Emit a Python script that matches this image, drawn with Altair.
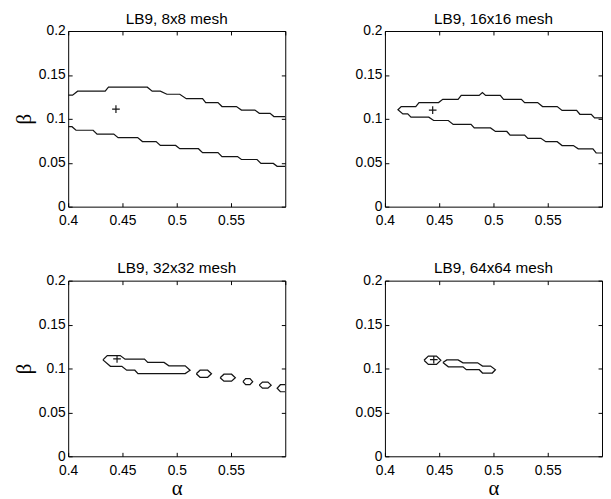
import altair as alt
import pandas as pd

# ---------------- data (alpha, beta) ----------------
XTICKS = [0.4, 0.45, 0.5, 0.55]
YTICKS = [0, 0.05, 0.1, 0.15, 0.2]

TITLES = ["LB9, 8x8 mesh", "LB9, 16x16 mesh", "LB9, 32x32 mesh", "LB9, 64x64 mesh"]

# 8x8 mesh: two open contour branches
m8_upper = [(0.400, 0.127), (0.4040, 0.127), (0.4087, 0.1315), (0.4341, 0.1315), (0.4371, 0.136),
            (0.4729, 0.136), (0.4774, 0.1315), (0.4849, 0.1315), (0.4909, 0.128), (0.5028, 0.128),
            (0.5088, 0.123), (0.5238, 0.123), (0.5267, 0.1185), (0.5380, 0.1185), (0.5417, 0.114),
            (0.5550, 0.114), (0.5596, 0.110), (0.5720, 0.110), (0.5761, 0.1063), (0.5860, 0.1063),
            (0.5895, 0.1026), (0.600, 0.1026)]
m8_lower = [(0.400, 0.091), (0.4035, 0.091), (0.4072, 0.087), (0.4230, 0.087), (0.4266, 0.0826),
            (0.4420, 0.0826), (0.4460, 0.0786), (0.4640, 0.0786), (0.4684, 0.0741), (0.4810, 0.0741),
            (0.4849, 0.0697), (0.4990, 0.0697), (0.5028, 0.066), (0.5200, 0.066), (0.5238, 0.0615),
            (0.5380, 0.0615), (0.5417, 0.057), (0.5560, 0.057), (0.5596, 0.0537), (0.5740, 0.0537),
            (0.5776, 0.0492), (0.5890, 0.0492), (0.5925, 0.0459), (0.600, 0.0459)]
m8_plus = [(0.444, 0.111)]

# 16x16 mesh: one contour open at the right edge
m16_contour = [(0.600, 0.1011), (0.5931, 0.1011), (0.5901, 0.1052), (0.5796, 0.1052), (0.5766, 0.1096),
               (0.5632, 0.1096), (0.5587, 0.114), (0.5452, 0.114), (0.5407, 0.1185), (0.5287, 0.1185),
               (0.5257, 0.1222), (0.5093, 0.1222), (0.5063, 0.1267), (0.4928, 0.1267), (0.4898, 0.130),
               (0.4868, 0.1267), (0.4703, 0.1267), (0.4674, 0.1222), (0.4533, 0.1222), (0.4494, 0.1185),
               (0.4314, 0.1185), (0.4284, 0.114), (0.4150, 0.114), (0.4120, 0.1104), (0.4165, 0.1056),
               (0.4210, 0.1056), (0.4240, 0.1019), (0.4404, 0.1019), (0.4449, 0.0981), (0.4584, 0.0981),
               (0.4629, 0.0937), (0.4793, 0.0937), (0.4823, 0.0896), (0.4973, 0.0896), (0.5018, 0.0856),
               (0.5123, 0.0856), (0.5153, 0.0815), (0.5287, 0.0815), (0.5317, 0.0778), (0.5437, 0.0778),
               (0.5482, 0.074), (0.5587, 0.074), (0.5632, 0.0696), (0.5736, 0.0696), (0.5781, 0.0659),
               (0.5916, 0.0659), (0.5946, 0.0611), (0.600, 0.0611)]
m16_plus = [(0.444, 0.110)]

# 32x32 mesh: one elongated closed contour and a chain of small islands
m32_main = [(0.4320, 0.1098), (0.4360, 0.1147), (0.4479, 0.1147), (0.4524, 0.1106), (0.4703, 0.1106),
            (0.4733, 0.1069), (0.4883, 0.1069), (0.4928, 0.1031), (0.5078, 0.1031), (0.5123, 0.0980),
            (0.5078, 0.0942), (0.4643, 0.0942), (0.4614, 0.0980), (0.4539, 0.0980), (0.4494, 0.1025),
            (0.4389, 0.1025), (0.4320, 0.1098)]
m32_isle1 = [(0.518, 0.094), (0.5215, 0.098), (0.5285, 0.098), (0.532, 0.094), (0.5285, 0.090),
             (0.5215, 0.090), (0.518, 0.094)]
m32_isle2 = [(0.540, 0.0895), (0.5435, 0.0935), (0.5505, 0.0935), (0.554, 0.0895), (0.5505, 0.0855),
             (0.5435, 0.0855), (0.540, 0.0895)]
m32_isle3 = [(0.561, 0.085), (0.5635, 0.0885), (0.5675, 0.0885), (0.570, 0.085), (0.5675, 0.0815),
             (0.5635, 0.0815), (0.561, 0.085)]
m32_isle4 = [(0.576, 0.081), (0.579, 0.0845), (0.584, 0.0845), (0.587, 0.081), (0.584, 0.0775),
             (0.579, 0.0775), (0.576, 0.081)]
m32_isle5 = [(0.600, 0.0815), (0.5955, 0.0815), (0.5925, 0.0775), (0.5955, 0.0735), (0.600, 0.0735)]
m32_plus = [(0.445, 0.111)]

# 64x64 mesh: a small island around the optimum and an elongated one
m64_isle = [(0.436, 0.1094), (0.440, 0.1141), (0.4475, 0.1141), (0.4515, 0.1094), (0.4475, 0.1047),
            (0.440, 0.1047), (0.436, 0.1094)]
m64_main = [(0.4534, 0.1068), (0.4570, 0.1098), (0.4674, 0.1098), (0.4719, 0.1065), (0.4854, 0.1065),
            (0.4899, 0.1027), (0.4973, 0.1027), (0.5018, 0.0986), (0.4989, 0.0948), (0.4899, 0.0948),
            (0.4869, 0.0986), (0.4750, 0.0986), (0.4719, 0.1019), (0.4584, 0.1019), (0.4534, 0.1068)]
m64_plus = [(0.445, 0.110)]


def paths_df(paths):
    rows = []
    for name, pts in paths.items():
        for i, (a, b) in enumerate(pts):
            rows.append({"alpha": a, "beta": b, "path": name, "order": i})
    return pd.DataFrame(rows)


def pts_df(pts):
    return pd.DataFrame({"alpha": [p[0] for p in pts], "beta": [p[1] for p in pts]})


LINE = "#141414"
W, H = 220, 178


def panel(paths, plus, title, ytitle, xtitle):
    xs = alt.Scale(domain=[0.4, 0.6], nice=False, zero=False)
    ys = alt.Scale(domain=[0, 0.2], nice=False, zero=False)
    xb = dict(values=XTICKS, format="~g", orient="bottom", offset=-4, tickSize=4,
              labelPadding=7, titlePadding=1, labelFlush=False)
    yl = dict(values=YTICKS, format="~g", orient="left", offset=-4, tickSize=4,
              labelPadding=3, titlePadding=4, labelFlush=False)
    if xtitle:
        xb["title"] = xtitle
    if ytitle:
        yl["title"] = ytitle
    x_bottom = alt.X("alpha:Q", scale=xs, axis=alt.Axis(**xb),
                     **({} if xtitle else {"title": None}))
    y_left = alt.Y("beta:Q", scale=ys, axis=alt.Axis(**yl),
                   **({} if ytitle else {"title": None}))
    lines = alt.Chart(paths_df(paths)).mark_line(
        color=LINE, strokeWidth=1.25, clip=True
    ).encode(x=x_bottom, y=y_left, detail="path:N", order="order:Q")

    x_top = alt.X("alpha:Q", scale=xs, title=None,
                  axis=alt.Axis(values=XTICKS + [0.6], orient="top", offset=-4, tickSize=4,
                                labels=False, minExtent=0))
    y_right = alt.Y("beta:Q", scale=ys, title=None,
                    axis=alt.Axis(values=YTICKS, orient="right", offset=-4, tickSize=4,
                                  labels=False, minExtent=0))
    marker = alt.Chart(pts_df(plus)).mark_point(
        shape="M-1,0L1,0M0,-1L0,1", size=60, color=LINE, strokeWidth=1.2, filled=False, opacity=1
    ).encode(x=x_top, y=y_right)

    return alt.layer(lines, marker).resolve_axis(x="independent", y="independent").properties(
        width=W, height=H,
        title=alt.TitleParams(title, fontSize=15.5, font="Liberation Sans", fontWeight="normal",
                              color="black", offset=-3),
    )


p1 = panel({"u": m8_upper, "l": m8_lower}, m8_plus, TITLES[0], "β", None)
p2 = panel({"c": m16_contour}, m16_plus, TITLES[1], None, None)
p3 = panel({"m": m32_main, "i1": m32_isle1, "i2": m32_isle2, "i3": m32_isle3,
            "i4": m32_isle4, "i5": m32_isle5}, m32_plus, TITLES[2], "β", "α")
p4 = panel({"i": m64_isle, "m": m64_main}, m64_plus, TITLES[3], None, "α")

chart = alt.concat(
    p1, p2, p3, p4, columns=2,
    spacing=alt.RowColnumber(row=75, column=101), bounds="flush",
).properties(
    padding={"left": 5, "top": 0, "right": 0, "bottom": 0}
).configure_view(
    stroke="black", strokeWidth=1
).configure_axis(
    grid=False, domain=False, tickColor="black", tickWidth=1,
    labelFont="Liberation Sans", labelFontSize=14, labelColor="black",
    titleFont="Liberation Serif", titleFontSize=21, titleFontWeight="normal", titleColor="black",
)

chart.save("out.html", embed_options={"renderer": "svg", "actions": False})
